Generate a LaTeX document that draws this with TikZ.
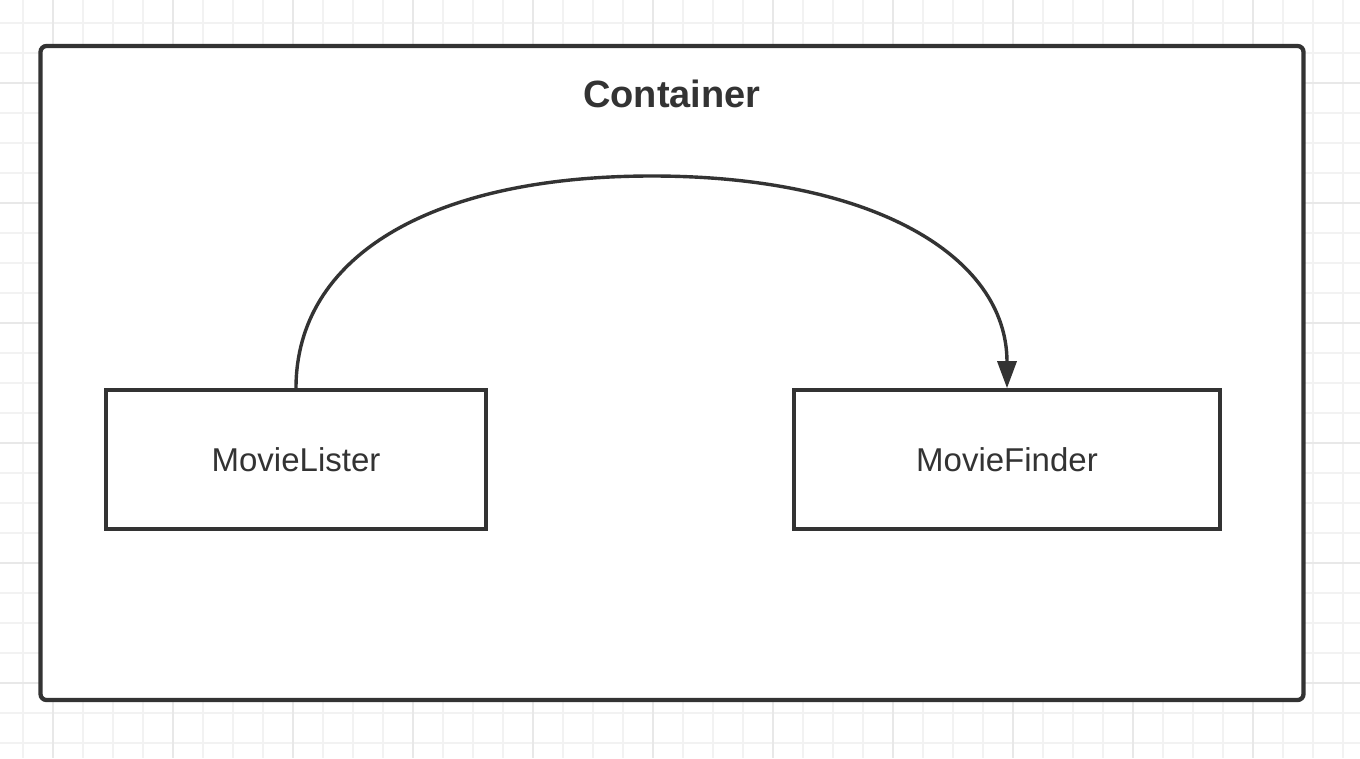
\documentclass[tikz,border=0pt]{standalone}
\usepackage{fontspec}
\setmainfont{Liberation Sans}
\usetikzlibrary{arrows.meta}
\definecolor{ink}{HTML}{333333}
\definecolor{gridminor}{HTML}{F2F2F2}
\definecolor{gridmajor}{HTML}{E8E8E8}
\tikzset{
  minorline/.style={draw=gridminor, line width=2pt},
  majorline/.style={draw=gridmajor, line width=2pt},
  container/.style={draw=ink, line width=4.3pt, rounded corners=6pt},
  classbox/.style={draw=ink, line width=3.6pt, rectangle, inner sep=0pt, text=ink,
    font=\fontsize{33}{38}\selectfont},
  titletext/.style={text=ink, font=\bfseries\fontsize{38}{44}\selectfont, inner sep=0pt},
  depend/.style={draw=ink, line width=3.4pt, -{Triangle[length=27pt,width=19pt]}}
}
\begin{document}
\begin{tikzpicture}[x=1pt,y=-1pt]
\useasboundingbox (0,0) rectangle (1360,758);
\fill[white] (0,0) rectangle (1360,758);
% background grid
\foreach \x in {23,53,...,1343} \draw[minorline] (\x,0) -- (\x,758);
\foreach \y in {23,53,...,743} \draw[minorline] (0,\y) -- (1360,\y);
\foreach \x in {53,173,...,1253} \draw[majorline] (\x,0) -- (\x,758);
\foreach \y in {83,203,...,683} \draw[majorline] (0,\y) -- (1360,\y);
% container
\draw[container, fill=white] (40.5,46) rectangle (1303.5,700);
\node[titletext] (title) at (672,94) {Container};
% classes
\node[classbox, minimum width=380pt, minimum height=139pt] (ml) at (296,459.5) {MovieLister};
\node[classbox, minimum width=426pt, minimum height=139pt] (mf) at (1007,459.5) {MovieFinder};
% dependency arrow
\coordinate (top) at (652,176);
\draw[depend] (ml.north) .. controls +(0,-132) and +(-221,0) .. (top)
  .. controls +(221,0) and +(0,-132) .. (mf.north);
\end{tikzpicture}
\end{document}
